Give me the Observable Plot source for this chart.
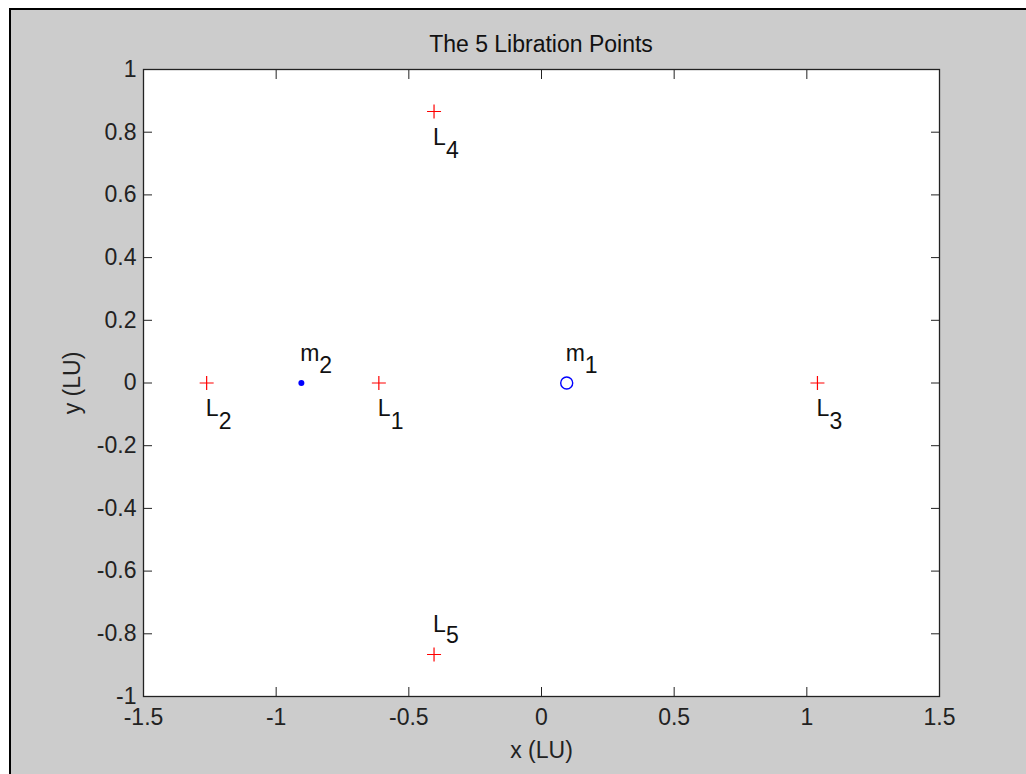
<!DOCTYPE html>
<html>
<head>
<meta charset="utf-8">
<script src="https://cdn.jsdelivr.net/npm/d3@7"></script>
<script src="https://cdn.jsdelivr.net/npm/@observablehq/plot@0.6"></script>
<style>
  html, body { margin: 0; padding: 0; background: #fff; width: 1026px; height: 774px; overflow: hidden; }
  #figure { position: absolute; left: 9px; top: 8px; width: 1015px; height: 764px; background: #cccccc;
            border-left: 2px solid #000; border-top: 2px solid #000; }
  #title { position: absolute; left: 143px; width: 796px; top: 33px; text-align: center;
           font: 23px "Liberation Sans", Arial, sans-serif; line-height: 23px; color: #111; }
  #chart { position: absolute; left: 0; top: 0; }
</style>
</head>
<body>
<div id="figure"></div>
<div id="title">The 5 Libration Points</div>
<div id="chart"></div>
<script>
// Axis ticks and their labels
const xTicks = [-1.5, -1, -0.5, 0, 0.5, 1, 1.5];
const xTickLabels = ["-1.5", "-1", "-0.5", "0", "0.5", "1", "1.5"];
const yTicks = [-1, -0.8, -0.6, -0.4, -0.2, 0, 0.2, 0.4, 0.6, 0.8, 1];
const yTickLabels = ["-1", "-0.8", "-0.6", "-0.4", "-0.2", "0", "0.2", "0.4", "0.6", "0.8", "1"];

// Libration points (LU)
const libSub = ["1", "2", "3", "4", "5"];
const libX = [-0.613, -1.262, 1.040, -0.405, -0.405];
const libY = [0, 0, 0, 0.866, -0.866];
const libSide = ["below", "below", "below", "below", "above"];

// Primary masses (LU)
const massSub = ["1", "2"];
const massX = [0.095, -0.905];
const massY = [0, 0];

const libration = libSub.map((sub, i) => ({sub, x: libX[i], y: libY[i], side: libSide[i]}));
const masses = massSub.map((sub, i) => ({sub, x: massX[i], y: massY[i]}));

// Thin "+" marker whose arms equal the dot radius
const plusSymbol = {
  draw(context, size) {
    const r = Math.sqrt(size / Math.PI);
    context.moveTo(-r, 0); context.lineTo(r, 0);
    context.moveTo(0, -r); context.lineTo(0, r);
  }
};

// Letter with a subscript drawn as two text marks
function subscriptLabel(data, letter, letterWidth, dyBase, dySub) {
  const common = {x: "x", y: "y", textAnchor: "start", lineAnchor: "bottom", fill: "#111"};
  return [
    Plot.text(data, {...common, text: () => letter, dx: -1, dy: dyBase}),
    Plot.text(data, {...common, text: "sub", dx: letterWidth - 1, dy: dySub})
  ];
}

const below = libration.filter(d => d.side === "below");
const above = libration.filter(d => d.side === "above");

const chart = Plot.plot({
  width: 1026,
  height: 774,
  marginLeft: 143,
  marginRight: 87,
  marginTop: 69,
  marginBottom: 78,
  style: {background: "transparent", fontFamily: "'Liberation Sans', Arial, sans-serif", fontSize: "23px", overflow: "visible"},
  x: {domain: [-1.5, 1.5]},
  y: {domain: [-1, 1]},
  marks: [
    Plot.frame({fill: "white"}),
    Plot.axisX(xTicks, {anchor: "bottom", tickSize: -9, tickPadding: 21, color: "#222",
      tickFormat: d => xTickLabels[xTicks.indexOf(d)],
      label: "x (LU)", labelAnchor: "center", labelArrow: false, labelOffset: 61}),
    Plot.axisX(xTicks, {anchor: "top", tickSize: -9, color: "#222", tickFormat: () => "", label: null}),
    Plot.axisY(yTicks, {anchor: "left", tickSize: -9, tickPadding: 16, color: "#222",
      tickFormat: d => yTickLabels[yTicks.indexOf(d)],
      label: "y (LU)", labelAnchor: "center", labelArrow: false, labelOffset: 80}),
    Plot.axisY(yTicks, {anchor: "right", tickSize: -9, color: "#222", tickFormat: () => "", label: null}),
    Plot.dot(libration, {x: "x", y: "y", symbol: plusSymbol, r: 7, stroke: "#ff0000", fill: "none", strokeWidth: 1.2}),
    Plot.dot(masses.filter(d => d.sub === "1"), {x: "x", y: "y", r: 6, stroke: "#0000ff", fill: "none", strokeWidth: 1.4}),
    Plot.dot(masses.filter(d => d.sub === "2"), {x: "x", y: "y", r: 3, fill: "#0000ff", stroke: "none"}),
    ...subscriptLabel(below, "L", 13, 33, 46),
    ...subscriptLabel(above, "L", 13, -22, -11),
    ...subscriptLabel(masses, "m", 19, -22, -10),
    Plot.frame({stroke: "#222", strokeWidth: 1.3})
  ]
});

document.getElementById("chart").append(chart);
</script>
</body>
</html>
